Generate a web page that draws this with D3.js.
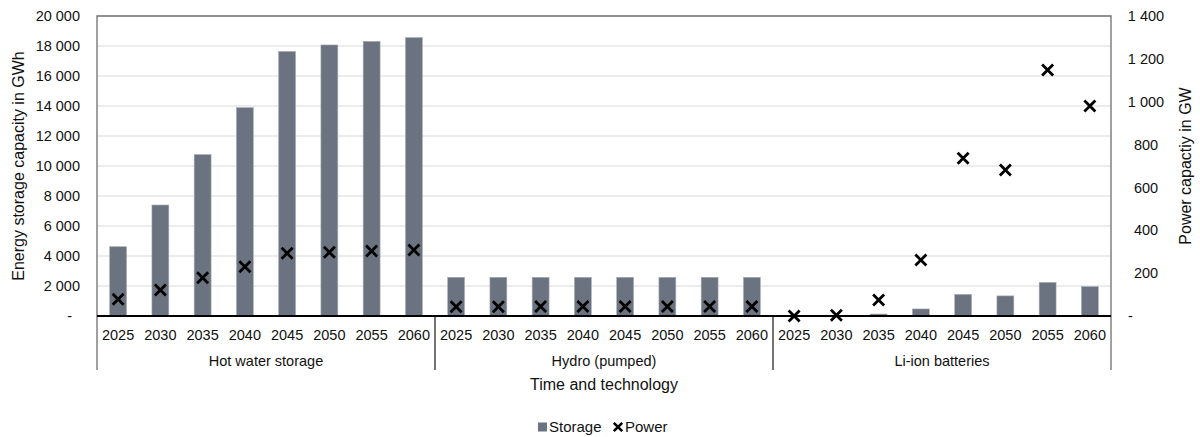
<!DOCTYPE html>
<html>
<head>
<meta charset="utf-8">
<script src="https://cdn.jsdelivr.net/npm/d3@7/dist/d3.min.js"></script>
<style>
  html, body { margin: 0; padding: 0; background: #fff; }
  svg { display: block; font-family: "Liberation Sans", Arial, sans-serif; }
</style>
</head>
<body>
<svg id="chart" width="1200" height="437"></svg>
<script>
// Technologies and years on the category axis
const groups = ["Hot water storage", "Hydro (pumped)", "Li-ion batteries"];
const years = ["2025", "2030", "2035", "2040", "2045", "2050", "2055", "2060"];

// Energy storage capacity (GWh), one array per technology
const storageHotWater = [4620, 7400, 10760, 13890, 17640, 18070, 18310, 18560];
const storageHydro    = [2580, 2580, 2580, 2580, 2580, 2580, 2580, 2580];
const storageLiIon    = [0, 0, 130, 470, 1440, 1340, 2240, 1960];

// Power capacity (GW), one array per technology
const powerHotWater = [78, 121, 179, 230, 293, 297, 303, 308];
const powerHydro    = [43, 43, 44, 44, 44, 44, 44, 44];
const powerLiIon    = [0, 3, 75, 261, 736, 681, 1148, 980];

// Axis ticks
const storageTicks = [0, 2000, 4000, 6000, 8000, 10000, 12000, 14000, 16000, 18000, 20000];
const powerTicks = [0, 200, 400, 600, 800, 1000, 1200, 1400];

const storageSeries = [storageHotWater, storageHydro, storageLiIon];
const powerSeries = [powerHotWater, powerHydro, powerLiIon];

const rows = [];
groups.forEach((g, gi) => {
  years.forEach((y, yi) => {
    rows.push({ key: g + "|" + y, group: g, year: y,
                storage: storageSeries[gi][yi], power: powerSeries[gi][yi] });
  });
});

const svg = d3.select("#chart");
const plotL = 97, plotR = 1111, plotT = 16, plotB = 316, axisEnd = 370;

const x = d3.scaleBand().domain(rows.map(d => d.key))
  .range([plotL, plotR]).paddingInner(0.6).paddingOuter(0.3);
const yL = d3.scaleLinear().domain([0, 20000]).range([plotB, plotT]);
const yR = d3.scaleLinear().domain([0, 1400]).range([plotB, plotT]);

const fmt = v => v === 0 ? "-" : d3.format(",")(v).replace(/,/g, " ");

// Horizontal gridlines
svg.append("g").selectAll("line").data(storageTicks.filter(t => t > 0 && t < 20000))
  .join("line")
  .attr("x1", plotL).attr("x2", plotR)
  .attr("y1", d => yL(d)).attr("y2", d => yL(d))
  .attr("stroke", "#d9d9d9").attr("stroke-width", 1.2);

// Storage bars
svg.append("g").selectAll("rect").data(rows).join("rect")
  .attr("x", d => x(d.key)).attr("width", x.bandwidth())
  .attr("y", d => yL(d.storage)).attr("height", d => plotB - yL(d.storage))
  .attr("fill", "#6b7280")
  .attr("stroke", "#a7adb6").attr("stroke-width", d => d.storage > 0 ? 0.6 : 0);

// Plot frame
svg.append("path")
  .attr("d", `M${plotL},${axisEnd}V${plotT}H${plotR}V${axisEnd}`)
  .attr("fill", "none")
  .attr("stroke", "#6e6e6e").attr("stroke-width", 1.3);

// Category axis line and group separators
svg.append("line").attr("x1", plotL).attr("x2", plotR)
  .attr("y1", plotB).attr("y2", plotB)
  .attr("stroke", "#000").attr("stroke-width", 2.2);
[1, 2].forEach(i => {
  const xs = x(rows[i * years.length].key) - x.step() * x.paddingInner() / 2;
  svg.append("line").attr("x1", xs).attr("x2", xs)
    .attr("y1", plotB).attr("y2", axisEnd)
    .attr("stroke", "#000").attr("stroke-width", 1.1);
});

// Power markers
const cross = s => `M${-s},${-s}L${s},${s}M${-s},${s}L${s},${-s}`;
svg.append("g").selectAll("path").data(rows).join("path")
  .attr("transform", d => `translate(${x(d.key) + x.bandwidth() / 2},${yR(d.power)})`)
  .attr("d", cross(5.5))
  .attr("stroke", "#000").attr("stroke-width", 2.8).attr("fill", "none");

// Left axis labels
svg.append("g").selectAll("text").data(storageTicks).join("text")
  .attr("x", d => d === 0 ? 72 : 80).attr("y", d => yL(d))
  .attr("dy", "0.35em").attr("text-anchor", "end")
  .attr("font-size", 14.5).attr("fill", "#111")
  .text(fmt);

// Right axis labels
svg.append("g").selectAll("text").data(powerTicks).join("text")
  .attr("x", d => d === 0 ? 1128 : 1146).attr("y", d => yR(d))
  .attr("dy", "0.35em").attr("text-anchor", d => d === 0 ? "start" : "middle")
  .attr("font-size", 14.5).attr("fill", "#111")
  .text(fmt);

// Year labels
svg.append("g").selectAll("text").data(rows).join("text")
  .attr("x", d => x(d.key) + x.bandwidth() / 2).attr("y", 335)
  .attr("dy", "0.35em").attr("text-anchor", "middle")
  .attr("font-size", 14.5).attr("fill", "#111")
  .text(d => d.year);

// Technology labels
svg.append("g").selectAll("text").data(groups).join("text")
  .attr("x", (g, gi) => {
    const a = x(rows[gi * years.length].key);
    const b = x(rows[gi * years.length + years.length - 1].key) + x.bandwidth();
    return (a + b) / 2;
  })
  .attr("y", 361).attr("dy", "0.35em").attr("text-anchor", "middle")
  .attr("font-size", 14.5).attr("fill", "#111")
  .text(d => d);

// Axis titles
svg.append("text").attr("x", (plotL + plotR) / 2).attr("y", 384)
  .attr("dy", "0.35em").attr("text-anchor", "middle")
  .attr("font-size", 16).attr("fill", "#111")
  .text("Time and technology");
svg.append("text")
  .attr("transform", `translate(18,${(plotT + plotB) / 2}) rotate(-90)`)
  .attr("dy", "0.35em").attr("text-anchor", "middle")
  .attr("font-size", 16).attr("fill", "#111")
  .text("Energy storage capacity in GWh");
svg.append("text")
  .attr("transform", `translate(1185,${(plotT + plotB) / 2}) rotate(-90)`)
  .attr("dy", "0.35em").attr("text-anchor", "middle")
  .attr("font-size", 16).attr("fill", "#111")
  .text("Power capactiy in GW");

// Legend
const lg = svg.append("g").attr("transform", "translate(538,427)");
lg.append("rect").attr("x", 0).attr("y", -4.5).attr("width", 9).attr("height", 9).attr("fill", "#6b7280");
lg.append("text").attr("x", 11).attr("dy", "0.35em").attr("font-size", 15).attr("fill", "#111").text("Storage");
lg.append("path").attr("transform", "translate(80,0)").attr("d", cross(4.2))
  .attr("stroke", "#000").attr("stroke-width", 2.6).attr("fill", "none");
lg.append("text").attr("x", 87).attr("dy", "0.35em").attr("font-size", 15).attr("fill", "#111").text("Power");
</script>
</body>
</html>
